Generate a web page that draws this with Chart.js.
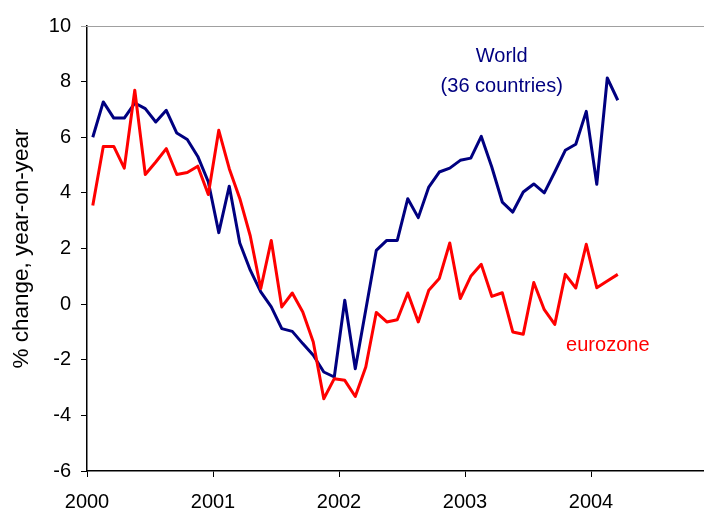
<!DOCTYPE html>
<html>
<head>
<meta charset="utf-8">
<script src="https://cdn.jsdelivr.net/npm/chart.js@4/dist/chart.umd.min.js"></script>
<style>
  html, body { margin: 0; padding: 0; overflow: hidden; background: #fff; }
</style>
</head>
<body>
<canvas id="chart" width="730" height="509"></canvas>
<script>
// ==================== DATA ====================
// monthly, Jan 2000 .. Mar 2004, % change year-on-year
const yearLabels = ['2000', '2001', '2002', '2003', '2004'];

const world = [
  6.0, 7.27, 6.69, 6.69, 7.23, 7.03, 6.55, 6.97, 6.15, 5.92, 5.31, 4.4,
  2.57, 4.24, 2.2, 1.22, 0.44, -0.1, -0.88, -0.98, -1.42, -1.84, -2.44, -2.62,
  0.14, -2.32, -0.2, 1.93, 2.29, 2.29, 3.79, 3.11, 4.21, 4.75, 4.89, 5.17,
  5.25, 6.03, 4.93, 3.67, 3.31, 4.03, 4.32, 4.0, 4.75, 5.53, 5.75, 6.93,
  4.31, 8.13, 7.33
];

const eurozone = [
  3.55, 5.67, 5.67, 4.89, 7.69, 4.66, 5.11, 5.59, 4.66, 4.73, 4.96, 3.94,
  6.25, 4.87, 3.8, 2.45, 0.56, 2.29, -0.1, 0.4, -0.28, -1.36, -3.4, -2.68,
  -2.74, -3.32, -2.26, -0.3, -0.64, -0.56, 0.4, -0.64, 0.5, 0.92, 2.2, 0.2,
  1.0, 1.43, 0.28, 0.41, -1.0, -1.08, 0.78, -0.2, -0.73, 1.07, 0.58, 2.15,
  0.59, 0.83, 1.07
];

// in-chart labels: text, month, value, colour
const noteTexts = ['World', '(36 countries)', 'eurozone'];
const noteMonths = [39.5, 39.5, 49.6];
const noteValues = [8.92, 7.82, -1.48];
const noteColors = ['#000080', '#000080', '#ff0000'];

// ==================== HELPERS ====================
const FONT = '"Liberation Sans", Arial, sans-serif';
// each monthly value sits mid-month on the date axis
const toPoints = arr => arr.map((v, i) => ({ x: i + 0.55, y: v }));

const notesPlugin = {
  id: 'notes',
  beforeDatasetsDraw(chart) {
    // thin grey frame line along the top of the plot
    const { ctx, chartArea } = chart;
    ctx.save();
    ctx.strokeStyle = '#a0a0a0';
    ctx.lineWidth = 1;
    ctx.beginPath();
    ctx.moveTo(chartArea.left - 6, Math.round(chartArea.top) + 0.5);
    ctx.lineTo(chartArea.right, Math.round(chartArea.top) + 0.5);
    ctx.stroke();
    ctx.restore();
  },
  afterDatasetsDraw(chart) {
    const { ctx, scales: { x, y } } = chart;
    ctx.save();
    ctx.font = '20px ' + FONT;
    ctx.textAlign = 'center';
    ctx.textBaseline = 'middle';
    noteTexts.forEach((t, i) => {
      ctx.fillStyle = noteColors[i];
      ctx.fillText(t, x.getPixelForValue(noteMonths[i]), y.getPixelForValue(noteValues[i]));
    });
    ctx.restore();
  }
};

// ==================== CHART ====================
new Chart(document.getElementById('chart'), {
  type: 'line',
  data: {
    datasets: [
      { label: 'World (36 countries)', data: toPoints(world), borderColor: '#000080',
        borderWidth: 3, pointRadius: 0, tension: 0, order: 1, borderJoinStyle: 'round' },
      { label: 'eurozone', data: toPoints(eurozone), borderColor: '#ff0000',
        borderWidth: 3, pointRadius: 0, tension: 0, order: 0, borderJoinStyle: 'round' }
    ]
  },
  options: {
    responsive: false,
    animation: false,
    layout: { padding: { top: 26, right: 12, bottom: 0, left: 0 } },
    plugins: { legend: { display: false }, tooltip: { enabled: false } },
    scales: {
      x: {
        type: 'linear', min: 0, max: 60,
        ticks: {
          stepSize: 12, maxRotation: 0, autoSkip: false, padding: 13,
          color: '#000', font: { family: FONT, size: 20 },
          callback: v => yearLabels[v / 12] || ''
        },
        grid: { drawOnChartArea: false, drawTicks: true, tickLength: 6, color: '#000', lineWidth: 1 },
        border: { color: '#000', width: 1.5 },
        afterFit: s => { s.height = 38; }
      },
      y: {
        min: -6, max: 10,
        ticks: { stepSize: 2, padding: 10, color: '#000', font: { family: FONT, size: 20 } },
        grid: { drawOnChartArea: false, drawTicks: true, tickLength: 6, color: '#000', lineWidth: 1 },
        border: { color: '#000', width: 1.5 },
        title: { display: true, text: '% change, year-on-year', color: '#000',
                 font: { family: FONT, size: 22.5 }, padding: { top: 8, bottom: 0 } },
        afterFit: s => { s.width = 87; }
      }
    }
  },
  plugins: [notesPlugin]
});
</script>
</body>
</html>
